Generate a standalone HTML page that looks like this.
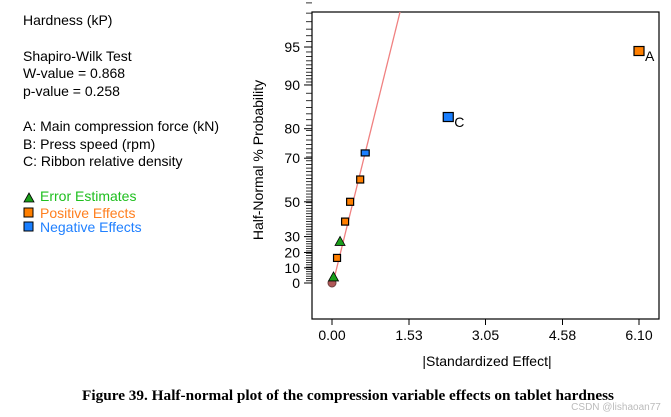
<!DOCTYPE html>
<html><head><meta charset="utf-8"><style>
body{margin:0;background:#fff;width:671px;height:417px;overflow:hidden;font-family:"Liberation Sans",Arial,sans-serif}
svg{position:absolute;left:0;top:0}
</style></head><body>
<svg id="c" width="671" height="417">
<g font-size="14" fill="#000">
<text x="23" y="25">Hardness (kP)</text>
<text x="23" y="61">Shapiro-Wilk Test</text>
<text x="23" y="78">W-value = 0.868</text>
<text x="23" y="96">p-value = 0.258</text>
<text x="23" y="131">A: Main compression force (kN)</text>
<text x="23" y="149">B: Press speed (rpm)</text>
<text x="23" y="166">C: Ribbon relative density</text>
</g>
<g font-size="14">
<polygon points="24,202 29,193 34,202" fill="#1a9e1a" stroke="#000" stroke-width="0.8"/>
<text x="40" y="201" fill="#1fbf1f">Error Estimates</text>
<rect x="24" y="208" width="9" height="9" fill="#ff7f00" stroke="#000"/>
<text x="40" y="218" fill="#ff7f1f">Positive Effects</text>
<rect x="24" y="222" width="9" height="9" fill="#1a7fff" stroke="#000"/>
<text x="40" y="232" fill="#2080ff">Negative Effects</text>
</g>
<rect x="312" y="12" width="347" height="307" fill="none" stroke="#000" stroke-width="1.2"/>
<g id="axes"></g>
<g id="marks"></g>
<text x="487" y="366" text-anchor="middle" font-size="14">|Standardized Effect|</text>
<text transform="translate(263,160) rotate(-90)" text-anchor="middle" font-size="14">Half-Normal % Probability</text>
<text x="348" y="400" text-anchor="middle" font-family="Liberation Serif,serif" font-weight="bold" font-size="15" textLength="532" lengthAdjust="spacingAndGlyphs">Figure 39. Half-normal plot of the compression variable effects on tablet hardness</text>
<text x="616" y="410" text-anchor="middle" font-size="10" fill="#bbb">CSDN @lishaoan77</text>
</svg>
<script>
const xTicks=[0,1.53,3.05,4.58,6.10];
const xTickLabels=["0.00","1.53","3.05","4.58","6.10"];
const yTicks=[0,10,20,30,50,70,80,90,95];
const effects=[0,0.03,0.10,0.16,0.26,0.36,0.56,0.66,2.31,6.10];
const probs=[0,4,16.5,27,39,50,61,72,83.2,94.6];
const kinds=["circle","error","positive","error","positive","positive","positive","negative","negative","positive"];
const labels=["","","","","","","","","C","A"];
const lineSlope=[1.69];
const NS="http://www.w3.org/2000/svg";
function invNorm(p){const a=[-39.69683028665376,220.9460984245205,-275.9285104469687,138.357751867269,-30.66479806614716,2.506628277459239],b=[-54.47609879822406,161.5858368580409,-155.6989798598866,66.80131188771972,-13.28068155288572],c=[-0.007784894002430293,-0.3223964580411365,-2.400758277161838,-2.549732539343734,4.374664141464968,2.938163982698783],d=[0.007784695709041462,0.3224671290700398,2.445134137142996,3.754408661907416];let q,r;if(p<0.02425){q=Math.sqrt(-2*Math.log(p));return(((((c[0]*q+c[1])*q+c[2])*q+c[3])*q+c[4])*q+c[5])/((((d[0]*q+d[1])*q+d[2])*q+d[3])*q+1);}if(p>1-0.02425){q=Math.sqrt(-2*Math.log(1-p));return-(((((c[0]*q+c[1])*q+c[2])*q+c[3])*q+c[4])*q+c[5])/((((d[0]*q+d[1])*q+d[2])*q+d[3])*q+1);}q=p-0.5;r=q*q;return(((((a[0]*r+a[1])*r+a[2])*r+a[3])*r+a[4])*r+a[5])*q/(((((b[0]*r+b[1])*r+b[2])*r+b[3])*r+b[4])*r+1);}
function xs(v){return 332+v*(307/6.1);}
function zOf(p){return p<=0?0:invNorm(0.5+p/200);}
function ysZ(z){return 283-z*120.4;}
function ys(p){return ysZ(zOf(p));}
function mk(t,at){const e=document.createElementNS(NS,t);for(const k in at)e.setAttribute(k,at[k]);return e;}
const ax=document.getElementById('axes'),mg=document.getElementById('marks');
xTicks.forEach((v,i)=>{const x=xs(v);
const t=mk('line',{x1:x,x2:x,y1:319,y2:325,stroke:'#000'});

ax.appendChild(t);
const l=mk('text',{x:x,y:340,'text-anchor':'middle','font-size':'14'});l.textContent=xTickLabels[i];

ax.appendChild(l);});
for(let p=0;p<=99;p+=(p<90?1.5:0.5)){const y=ys(p);const t=mk('line',{x1:306,x2:312,y1:y,y2:y,stroke:'#000','stroke-width':0.8});

ax.appendChild(t);}
yTicks.forEach(p=>{const y=ys(p);const t=mk('line',{x1:304,x2:312,y1:y,y2:y,stroke:'#000'});

ax.appendChild(t);
const l=mk('text',{x:300,y:y+5,'text-anchor':'end','font-size':'14'});l.textContent=p;

ax.appendChild(l);});
const zTop=(283-12)/120.4;const v1=zTop/lineSlope[0];
const ln=mk('line',{x1:xs(0.02),y1:ysZ(0),x2:xs(0.02+v1),y2:12,stroke:'#f08080','stroke-width':1.3});

mg.appendChild(ln);
const col={positive:'#ff7f00',negative:'#1a7fff'};
effects.forEach((v,i)=>{const x=xs(v),y=ys(probs[i]);const k=kinds[i];let e;
if(k==='circle'){e=mk('circle',{cx:x,cy:y,r:4,fill:'#b05858',stroke:'#704040'});}
else if(k==='error'){e=mk('polygon',{points:`${x-5},${y+4} ${x},${y-5} ${x+5},${y+4}`,fill:'#1a9e1a',stroke:'#000','stroke-width':0.8});}
else{const big=labels[i]!=='';const w=big?10:(k==='negative'?8:7),h=big?9:(k==='negative'?6:7);
e=mk('rect',{x:x-w/2,y:y-h/2,width:w,height:h,fill:col[k],stroke:'#000','stroke-width':1.2});}

mg.appendChild(e);
if(labels[i]){const l=mk('text',{x:x+6,y:y+10,'font-size':'14'});l.textContent=labels[i];

mg.appendChild(l);}});
</script>
</body></html>
